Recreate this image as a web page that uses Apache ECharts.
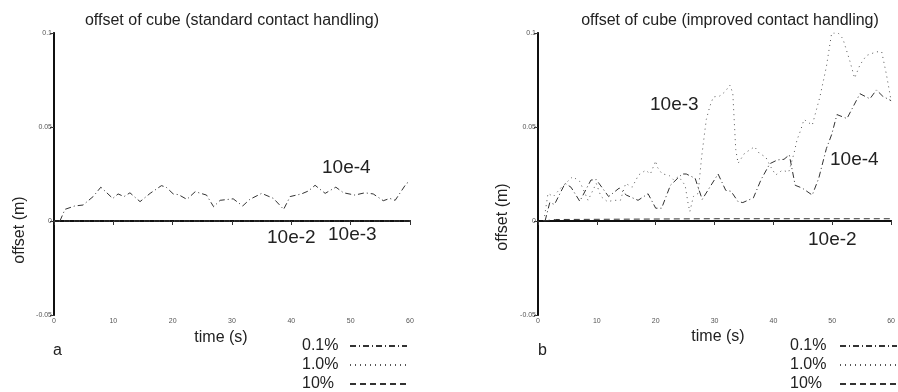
<!DOCTYPE html>
<html>
<head>
<meta charset="utf-8">
<script src="https://cdn.jsdelivr.net/npm/echarts@6/dist/echarts.min.js"></script>
<style>
  html, body { margin: 0; padding: 0; background: #fff; }
  #chart { width: 898px; height: 392px; }
</style>
</head>
<body>
<div id="chart"></div>
<script>
// offset of cube - two panels (standard / improved contact handling)
const chart = echarts.init(document.getElementById('chart'))

// legend names
const names = ['0.1%', '1.0%', '10%']

// x ticks + y ticks
const xTicks = [0, 10, 20, 30, 40, 50, 60]
const yTicks = [-0.05, 0, 0.05, 0.1]

// panel a (standard) : 10e-4 curve
const leftT4 = [1, 1.85, 3.5, 4.9, 6.6, 7.9, 9.9, 10.8, 11.8, 12.8, 14.5, 16.2, 18.1, 18.9, 20.1, 21, 22.4, 23.8, 25.7, 26.9, 28, 30.2, 31.8, 33, 35, 37, 38.7, 39.8, 41.7, 42.9, 44, 45.7, 47.5, 48.8, 50.7, 52.4, 53.8, 55.5, 56.6, 57.5, 59.4, 60]
const leftV4 = [0, 0.0062, 0.008, 0.0085, 0.013, 0.018, 0.012, 0.0144, 0.013, 0.015, 0.0103, 0.0147, 0.0188, 0.018, 0.0144, 0.014, 0.0115, 0.0156, 0.0138, 0.0076, 0.011, 0.0118, 0.008, 0.0115, 0.0147, 0.012, 0.0062, 0.013, 0.0144, 0.016, 0.019, 0.0147, 0.018, 0.015, 0.0138, 0.015, 0.0144, 0.0108, 0.012, 0.011, 0.02, 0.021]
// panel a : 10e-3 and 10e-2 stay on zero
const leftT3 = [0, 60]
const leftV3 = [0, 0]
const leftT2 = [0, 60]
const leftV2 = [0, 0]

// panel b (improved) : 10e-4 curve
const rightT4 = [1.2, 2, 2.8, 4.6, 5.6, 7.1, 9, 9.9, 12, 13.8, 15, 17, 18.7, 20, 21, 22.5, 24.5, 25.2, 26.7, 27.9, 30.6, 31.9, 32.8, 34, 34.8, 36.6, 37.9, 39.4, 40.7, 41.8, 42.7, 43.7, 44.9, 46.6, 47.7, 49, 49.9, 50.8, 52.5, 54.7, 56.4, 57.5, 58.6, 60]
const rightV4 = [0, 0.0098, 0.0088, 0.02, 0.018, 0.0105, 0.0218, 0.022, 0.013, 0.0175, 0.0138, 0.011, 0.0145, 0.0068, 0.0068, 0.019, 0.025, 0.025, 0.0227, 0.0115, 0.025, 0.0163, 0.0158, 0.0103, 0.0098, 0.0123, 0.022, 0.0305, 0.0325, 0.0328, 0.0352, 0.019, 0.0175, 0.0138, 0.0227, 0.0385, 0.046, 0.0566, 0.0545, 0.0677, 0.065, 0.0697, 0.0663, 0.064]
// panel b : 10e-3 curve
const rightT3 = [1, 1.7, 2.6, 4, 5.9, 7.1, 8.5, 9.9, 10.7, 11.8, 12.9, 14, 14.9, 16, 17.1, 18.3, 19.1, 20, 20.2, 21.1, 22.2, 23, 23.9, 25, 25.5, 25.8, 26.4, 27.2, 27.8, 28.3, 28.6, 29.2, 29.8, 30.9, 31.8, 32.6, 33.1, 33.4, 33.6, 34, 35.1, 36.8, 37.6, 38.7, 39.5, 40.4, 41.5, 42.6, 43.5, 44, 44.6, 45.2, 46.6, 47.9, 49, 49.9, 51, 51.8, 53, 53.8, 54.7, 55.8, 57.5, 58.4, 59.2, 60]
const rightV3 = [0, 0.0147, 0.013, 0.018, 0.0236, 0.021, 0.011, 0.02, 0.013, 0.0103, 0.011, 0.011, 0.02, 0.018, 0.0245, 0.027, 0.025, 0.032, 0.029, 0.025, 0.0245, 0.022, 0.0236, 0.019, 0.0094, 0.005, 0.013, 0.0147, 0.034, 0.0466, 0.054, 0.061, 0.066, 0.0665, 0.0688, 0.0723, 0.068, 0.05, 0.038, 0.0307, 0.036, 0.0395, 0.036, 0.034, 0.029, 0.0245, 0.027, 0.026, 0.036, 0.043, 0.048, 0.054, 0.051, 0.066, 0.082, 0.1, 0.1, 0.097, 0.085, 0.076, 0.083, 0.088, 0.09, 0.09, 0.078, 0.064]
// panel b : 10e-2 curve (just above zero)
const rightT2 = [1, 3, 30, 60]
const rightV2 = [0, 0.0008, 0.0012, 0.0012]

// line dash styles
const dashDot = [6, 3, 1, 3]
const dotted = [1, 4]
const dashed = [6, 4]
const styles = [dashDot, dotted, dashed]

const font = 'Liberation Sans'
const ink = '#222'
const pairs = (t, v) => t.map((x, i) => [x, v[i]])

// axes for one panel: bottom + top (mirror), left + right (mirror)
function xAxes(g) {
  return [
    {
      gridIndex: g, type: 'value', min: xTicks[0], max: xTicks[xTicks.length - 1], interval: 10,
      axisLine: { lineStyle: { color: '#111', width: 2 } },
      axisTick: { show: false },
      axisLabel: { fontSize: 7, color: '#555', margin: 3, fontFamily: font },
      splitLine: { show: false }
    },
    {
      gridIndex: g, type: 'value', position: 'top', min: 0, max: 60, interval: 10,
      axisLine: { show: true, lineStyle: { color: '#111', width: 1.5 } },
      axisTick: { show: true, inside: true, length: 4, lineStyle: { color: '#333' } },
      axisLabel: { show: false },
      splitLine: { show: false }
    }
  ]
}
function yAxes(g) {
  return [
    {
      gridIndex: g, type: 'value', min: yTicks[0], max: yTicks[yTicks.length - 1], interval: 0.05,
      axisLine: { show: true, lineStyle: { color: '#111', width: 2 } },
      axisTick: { show: true, length: 2, lineStyle: { color: '#333' } },
      axisLabel: { fontSize: 7, color: '#555', margin: 2, fontFamily: font },
      splitLine: { show: false }
    },
    {
      gridIndex: g, type: 'value', position: 'right', min: -0.05, max: 0.1, interval: 0.05,
      axisLine: { show: true, lineStyle: { color: '#111', width: 1.5 } },
      axisTick: { show: true, inside: true, length: 4, lineStyle: { color: '#333' } },
      axisLabel: { show: false },
      splitLine: { show: false }
    }
  ]
}

function line(name, data, dash, g) {
  return {
    name: name, type: 'line', data: data,
    xAxisIndex: g * 2, yAxisIndex: g * 2,
    symbol: 'none', silent: true, animation: false,
    itemStyle: { color: '#333' },
    lineStyle: { color: dash === dotted ? '#555' : '#333', width: 1, type: dash }
  }
}

// free text (labels inside the plots, axis names, panel letters)
function txt(x, y, s, size, align, rot) {
  return {
    type: 'text', x: x, y: y, rotation: rot || 0, silent: true,
    style: { text: s, fontSize: size, fontFamily: font, fill: ink, align: align || 'left', verticalAlign: 'middle' }
  }
}

// legend: text on the left, line sample on the right, no symbol
function legendAt(left, w) {
  return {
    data: names, orient: 'vertical', left: left, top: 338, align: 'right',
    padding: 0, itemWidth: 57, itemHeight: 12, itemGap: 3, selectedMode: false,
    itemStyle: { opacity: 0 },
    formatter: '{n|{name}}',
    textStyle: {
      color: ink, fontFamily: font, fontSize: 16, lineHeight: 16,
      rich: { n: { width: w, align: 'left', fontSize: 16, lineHeight: 16, fontFamily: font, color: ink } }
    }
  }
}

const option = {
  backgroundColor: '#fff',
  animation: false,
  title: [
    { text: 'offset of cube (standard contact handling)', left: 227, top: 8, textAlign: 'center',
      textStyle: { fontSize: 16, fontWeight: 'normal', color: ink, fontFamily: font } },
    { text: 'offset of cube (improved contact handling)', left: 725, top: 8, textAlign: 'center',
      textStyle: { fontSize: 16, fontWeight: 'normal', color: ink, fontFamily: font } }
  ],
  grid: [
    { left: 54, top: 33, width: 356, height: 282 },
    { left: 538, top: 33, width: 357, height: 282 }
  ],
  xAxis: [...xAxes(0), ...xAxes(1)],
  yAxis: [...yAxes(0), ...yAxes(1)],
  legend: [legendAt(302, 43), legendAt(790, 45)],
  series: [
    line(names[0], pairs(leftT4, leftV4), styles[0], 0),
    line(names[1], pairs(leftT3, leftV3), styles[1], 0),
    line(names[2], pairs(leftT2, leftV2), styles[2], 0),
    line(names[0], pairs(rightT4, rightV4), styles[0], 1),
    line(names[1], pairs(rightT3, rightV3), styles[1], 1),
    line(names[2], pairs(rightT2, rightV2), styles[2], 1)
  ],
  graphic: [
    txt(322, 168, '10e-4', 19),
    txt(267, 238, '10e-2', 19),
    txt(328, 235, '10e-3', 19),
    txt(650, 105, '10e-3', 19),
    txt(830, 160, '10e-4', 19),
    txt(808, 240, '10e-2', 19),
    txt(221, 338, 'time (s)', 16, 'center'),
    txt(718, 337, 'time (s)', 16, 'center'),
    txt(53, 351, 'a', 16),
    txt(538, 351, 'b', 16),
    txt(20, 230, 'offset (m)', 16, 'center', Math.PI / 2),
    txt(503, 217, 'offset (m)', 16, 'center', Math.PI / 2)
  ]
}

chart.setOption(option)
</script>
</body>
</html>
